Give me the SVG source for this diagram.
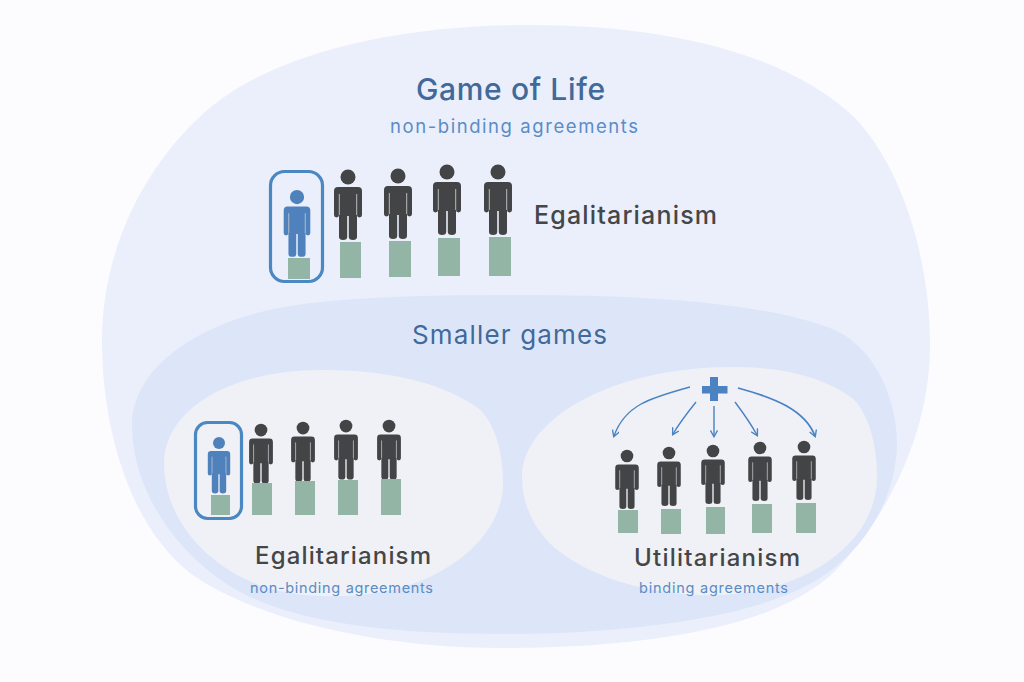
<svg xmlns="http://www.w3.org/2000/svg" width="1024" height="682" viewBox="0 0 1024 682">
<style>
text{font-family:Inter,"Noto Sans","Liberation Sans",sans-serif}
.title{font-weight:500}
.h{fill:#41699a}
.k{fill:#444648}
.b{fill:#5a8cc8}
.ped{fill:#93b5a6}
.frame{fill:none;stroke:#4a87c3;stroke-width:3.2}
.arr{fill:none;stroke:#4a82c2;stroke-width:1.4;marker-end:url(#ah)}
.slit{stroke:#c4c8d0;stroke-width:.9;fill:none}
.dark{color:#434445}
.blue{color:#4f82bd}
</style>
<defs>
<marker id="ah" viewBox="0 0 10 10" refX="8" refY="5" markerWidth="8" markerHeight="8" orient="auto" markerUnits="userSpaceOnUse"><path d="M1,0.500 L9,5 L1,9.500" fill="none" stroke="#4a82c2" stroke-width="1.7"/></marker>
<g id="person">
<circle cx="0" cy="0" r="7.500" fill="currentColor"/>
<path fill="currentColor" d="M-10,10H10Q14,10 14,14V38a2.500,2.500 0 0 1-5,0V60a4.100,3 0 0 1-8.200,0V39h-1.600V60a4.100,3 0 0 1-8.200,0V38a2.500,2.500 0 0 1-5,0V14Q-14,10-10,10Z"/>
<path class="slit" d="M-8.700,17V38M8.700,17V38"/>
</g>
</defs>
<rect width="1024" height="682" fill="#fcfcfe"/>
<g id="game-of-life">
<path d="M102,340C102,255 140,170 205,112C270,55 390,25 530,25C670,25 790,55 855,118C900,165 930,255 930,345C930,430 890,515 833,573C770,632 630,648 500,648C380,648 255,620 190,573C135,530 102,440 102,340Z" fill="#eaeffb"/>
<text class="title h" x="416" y="100" font-size="30" textLength="189">Game of Life</text>
<text class="b" x="390" y="133" font-size="18.500" textLength="248">non-binding agreements</text>
</g>
<g id="smaller-games">
<path d="M132,425C132,380 175,335 257,313C320,296 430,295 523,295C640,295 760,302 830,328C875,345 898,400 897,447C895,500 865,550 817,580C750,620 620,634 500,634C400,634 310,625 250,597C190,569 132,500 132,425Z" fill="#dde6f8"/>
<text class="title h" x="412" y="344" font-size="26" textLength="195" style="font-weight:400">Smaller games</text>
</g>
<g id="egal-small">
<path d="M164,463C164,415 220,370 323,370C395,370 445,385 478,408C495,422 504,455 503,487C501,525 470,560 423,580C385,596 335,600 290,593C225,583 164,530 164,463Z" fill="#eff1f6"/>
</g>
<g id="util-small">
<path d="M522,477C522,420 610,367 733,367C785,367 825,378 852,398C868,412 878,445 877,480C876,512 858,540 830,560C798,583 755,597 700,595C645,593 595,578 560,552C535,533 522,505 522,477Z" fill="#eff1f6"/>
</g>
<g id="top-row">
<rect class="frame" x="270.500" y="171.500" width="52" height="110" rx="14"/>
<use href="#person" class="blue" transform="translate(297,197) scale(.95)"/>
<rect class="ped" x="288" y="258" width="22" height="21"/>
<use href="#person" class="dark" transform="translate(348,177)"/>
<rect class="ped" x="340" y="242" width="21" height="36"/>
<use href="#person" class="dark" transform="translate(398,176)"/>
<rect class="ped" x="389" y="241" width="22" height="36"/>
<use href="#person" class="dark" transform="translate(447,172)"/>
<rect class="ped" x="438" y="238" width="22" height="38"/>
<use href="#person" class="dark" transform="translate(498,172)"/>
<rect class="ped" x="489" y="237" width="22" height="39"/>
<text class="title k" x="534" y="224" font-size="25" textLength="183">Egalitarianism</text>
</g>
<g id="left-row">
<rect class="frame" x="195.500" y="422.500" width="46" height="96" rx="12"/>
<use href="#person" class="blue" transform="translate(219,443) scale(.8)"/>
<rect class="ped" x="211" y="495" width="19" height="20"/>
<use href="#person" class="dark" transform="translate(261,430) scale(.85)"/>
<rect class="ped" x="252" y="483" width="20" height="32"/>
<use href="#person" class="dark" transform="translate(303,428) scale(.85)"/>
<rect class="ped" x="295" y="481" width="20" height="34"/>
<use href="#person" class="dark" transform="translate(346,426) scale(.85)"/>
<rect class="ped" x="338" y="480" width="20" height="35"/>
<use href="#person" class="dark" transform="translate(389,426) scale(.85)"/>
<rect class="ped" x="381" y="479" width="20" height="36"/>
<text class="title k" x="255" y="564" font-size="24" textLength="176">Egalitarianism</text>
<text class="b" x="250" y="593" font-size="14.500" textLength="183">non-binding agreements</text>
</g>
<g id="right-row">
<use href="#person" class="dark" transform="translate(627,456) scale(.84)"/>
<rect class="ped" x="618" y="510" width="20" height="23"/>
<use href="#person" class="dark" transform="translate(669,453) scale(.84)"/>
<rect class="ped" x="661" y="509" width="20" height="25"/>
<use href="#person" class="dark" transform="translate(713,451) scale(.84)"/>
<rect class="ped" x="706" y="507" width="19" height="27"/>
<use href="#person" class="dark" transform="translate(760,448) scale(.84)"/>
<rect class="ped" x="752" y="504" width="20" height="29"/>
<use href="#person" class="dark" transform="translate(804,447) scale(.84)"/>
<rect class="ped" x="796" y="503" width="20" height="30"/>
<text class="title k" x="634" y="566" font-size="24" textLength="166">Utilitarianism</text>
<text class="b" x="639" y="593" font-size="14.500" textLength="149">binding agreements</text>
</g>
<g id="plus">
<path d="M710,377h8v9h9.500v7.500H718V401h-8V393.500H702V386h8Z" fill="#4a82c2"/>
</g>
<g id="connectors">
<path class="arr" d="M690,387C650,398 625,405 614,436"/>
<path class="arr" d="M696,402C688,412 680,422 673,434"/>
<path class="arr" d="M714,406V436"/>
<path class="arr" d="M735,402C744,414 751,424 757,435"/>
<path class="arr" d="M738,388C775,398 805,410 815,436" style="stroke-width:1.800"/>
</g>
</svg>
